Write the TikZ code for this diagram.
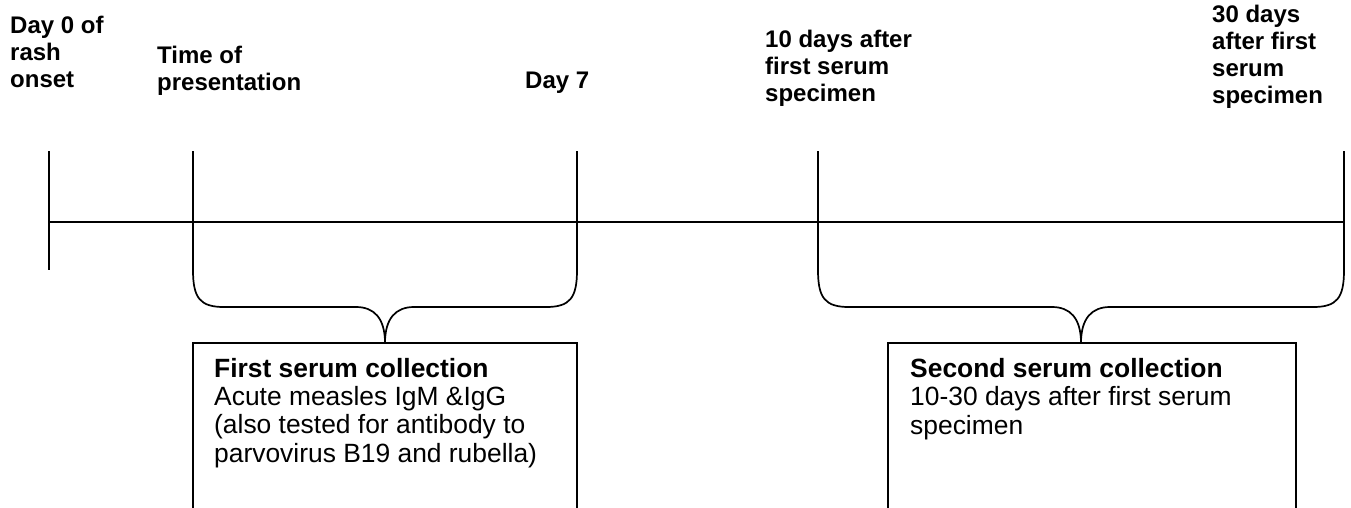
\documentclass[tikz,border=0pt]{standalone}
\usepackage{fontspec}
\setmainfont{Liberation Sans}
\begin{document}
\begin{tikzpicture}[x=1pt,y=-1pt,
  line/.style={line width=1.7pt,line cap=butt},
  lbl/.style={inner sep=0pt,anchor=base west,align=left,font=\fontsize{24}{27}\selectfont\bfseries},
  boxtxt/.style={inner sep=0pt,anchor=base west,align=left,font=\fontsize{26.4}{28.3}\selectfont}]
\useasboundingbox (0,0) rectangle (1351,507);
\begin{scope}
\clip (0,0) rectangle (1351,507);
% labels (anchored at the baseline of their last line)
\node[lbl] (l0) at (10,87) {Day 0 of\\rash\\onset};
\node[lbl] (l1) at (157,90) {Time of\\presentation};
\node[lbl] (l2) at (525,88) {Day 7};
\node[lbl] (l3) at (765,101) {10 days after\\first serum\\specimen};
\node[lbl] (l4) at (1212,103) {30 days\\after first\\serum\\specimen};
% timeline
\coordinate (t0) at (49,222);
\coordinate (t4) at (1344,222);
\draw[line] (t0) -- (t4);
\coordinate (d0a) at (49,151);
\coordinate (d0b) at (49,270);
\draw[line] (d0a) -- (d0b);
% brace 1
\coordinate (b1l) at (193,151);
\coordinate (b1r) at (577,151);
\coordinate (c1) at (385,343);
\draw[line] (b1l) -- (193,270) .. controls (193,298) and (200,307) .. (224,307)
  -- (356,307) .. controls (374,307) and (385,318) .. (c1)
  .. controls (385,318) and (396,307) .. (414,307)
  -- (546,307) .. controls (570,307) and (577,298) .. (577,270) -- (b1r);
% brace 2
\coordinate (b2l) at (818,151);
\coordinate (b2r) at (1344,151);
\coordinate (c2) at (1081,343);
\draw[line] (b2l) -- (818,270) .. controls (818,298) and (825,307) .. (849,307)
  -- (1052,307) .. controls (1070,307) and (1081,318) .. (c2)
  .. controls (1081,318) and (1092,307) .. (1110,307)
  -- (1313,307) .. controls (1337,307) and (1344,298) .. (1344,270) -- (b2r);
% boxes (open at the bottom edge of the picture)
\draw[line] (193,520) -- (193,343) -- (577,343) -- (577,520);
\draw[line] (888,520) -- (888,343) -- (1296,343) -- (1296,520);
\node[boxtxt] (box1) at (214,462) {\textbf{First serum collection}\\Acute measles IgM \&IgG\\(also tested for antibody to\\parvovirus B19 and rubella)};
\node[boxtxt] (box2) at (910,434) {\textbf{Second serum collection}\\10-30 days after first serum\\specimen};
\end{scope}
\end{tikzpicture}
\end{document}
